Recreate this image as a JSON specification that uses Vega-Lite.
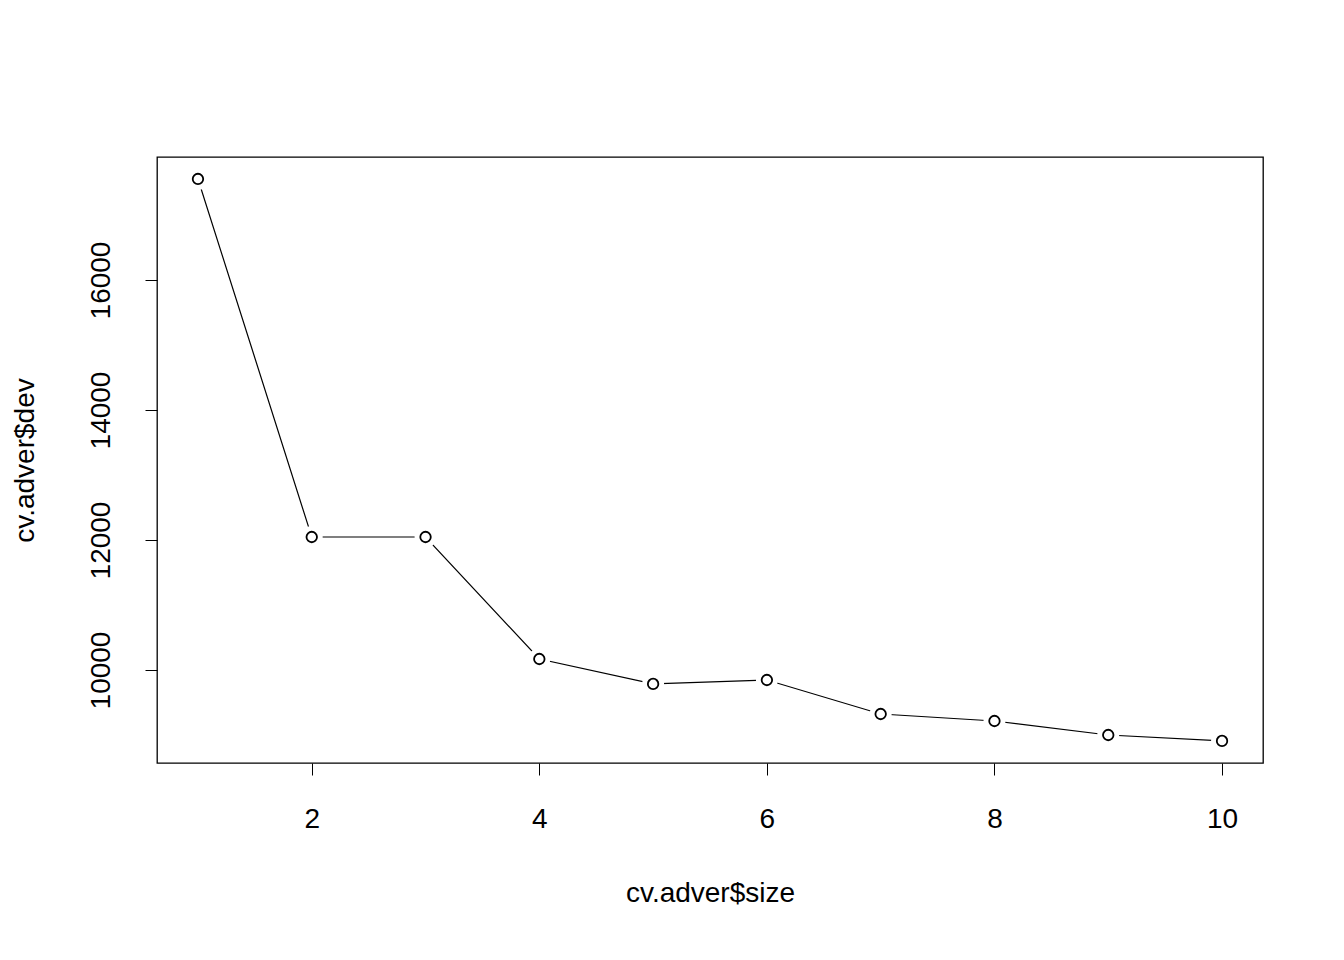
{
"$schema":"https://vega.github.io/schema/vega-lite/v6.json",
"width":1106,"height":606,
"autosize":{"type":"none"},
"padding":{"left":157,"top":157,"right":81,"bottom":197},
"background":"white",
"config":{"view":{"stroke":"black","strokeWidth":1.3},"font":"Liberation Sans"},
"data":{"values":[
{"size":1,"dev":17554},{"size":2,"dev":12046},{"size":3,"dev":12046},{"size":4,"dev":10169},{"size":5,"dev":9785},
{"size":6,"dev":9846},{"size":7,"dev":9323},{"size":8,"dev":9215},{"size":9,"dev":9000},{"size":10,"dev":8908}]},
"encoding":{
"x":{"field":"size","type":"quantitative","scale":{"domain":[0.64,10.36],"nice":false,"zero":false},
"axis":{"values":[2,4,6,8,10],"format":"d","grid":false,"domain":false,"tickColor":"black","tickSize":12,"labelFontSize":28,"labelColor":"black","labelPadding":30,"title":"cv.adver$size","titleFontSize":28,"titleFontWeight":"normal","titleColor":"black","titlePadding":46}},
"y":{"field":"dev","type":"quantitative","scale":{"domain":[8569,17892],"nice":false,"zero":false},
"axis":{"values":[10000,12000,14000,16000],"format":"d","grid":false,"domain":false,"tickColor":"black","tickSize":12,"labelFontSize":28,"labelColor":"black","labelAngle":-90,"labelAlign":"center","labelBaseline":"bottom","labelPadding":30,"title":"cv.adver$dev","titleFontSize":28,"titleFontWeight":"normal","titleColor":"black","titlePadding":48}}
},
"layer":[
{"mark":{"type":"line","color":"black","strokeWidth":1.2}},
{"mark":{"type":"point","shape":"circle","filled":true,"color":"white","size":480,"opacity":1}},
{"mark":{"type":"point","shape":"circle","filled":false,"color":"black","size":110,"strokeWidth":1.8,"opacity":1}}
]
}
